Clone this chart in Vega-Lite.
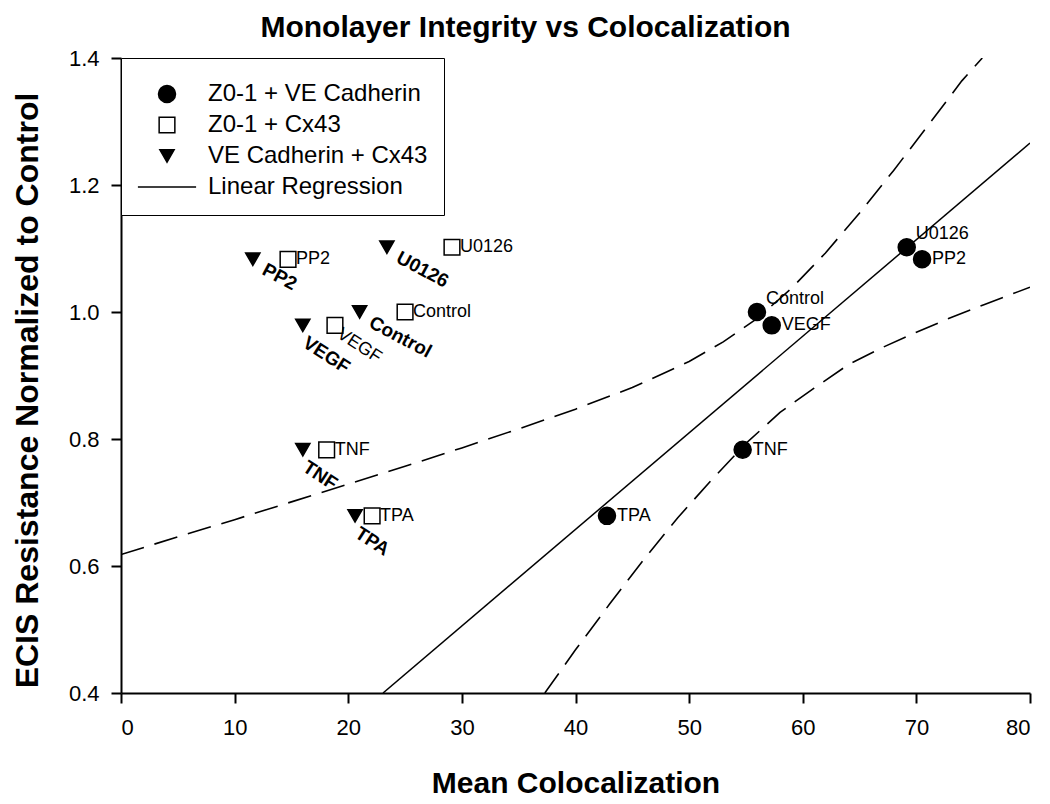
{
  "$schema": "https://vega.github.io/schema/vega-lite/v6.json",
  "width": 909,
  "height": 635,
  "autosize": {"type": "none"},
  "padding": {"left": 121, "top": 58, "right": 20, "bottom": 111},
  "background": "white",
  "title": {
    "text": "Monolayer Integrity vs Colocalization",
    "font": "Liberation Sans",
    "fontSize": 30,
    "fontWeight": "bold",
    "color": "black",
    "anchor": "middle",
    "dx": -50,
    "offset": 4
  },
  "config": {
    "view": {"stroke": null},
    "font": "Liberation Sans",
    "axis": {
      "grid": false,
      "domainColor": "black",
      "domainWidth": 2,
      "tickColor": "black",
      "tickWidth": 2,
      "tickSize": 10,
      "labelFont": "Liberation Sans",
      "labelFontSize": 22,
      "labelColor": "black",
      "titleFont": "Liberation Sans",
      "titleFontSize": 30,
      "titleFontWeight": "bold",
      "titleColor": "black"
    }
  },
  "datasets": {
    "points": [
      {"group": "Z0-1 + VE Cadherin", "treatment": "U0126", "x": 69.15, "y": 1.102},
      {"group": "Z0-1 + VE Cadherin", "treatment": "PP2", "x": 70.5, "y": 1.083},
      {"group": "Z0-1 + VE Cadherin", "treatment": "Control", "x": 55.97, "y": 1.0},
      {"group": "Z0-1 + VE Cadherin", "treatment": "VEGF", "x": 57.27, "y": 0.979},
      {"group": "Z0-1 + VE Cadherin", "treatment": "TNF", "x": 54.71, "y": 0.783},
      {"group": "Z0-1 + VE Cadherin", "treatment": "TPA", "x": 42.77, "y": 0.679},
      {"group": "Z0-1 + Cx43", "treatment": "U0126", "x": 29.13, "y": 1.102},
      {"group": "Z0-1 + Cx43", "treatment": "PP2", "x": 14.7, "y": 1.083},
      {"group": "Z0-1 + Cx43", "treatment": "Control", "x": 25.0, "y": 1.0},
      {"group": "Z0-1 + Cx43", "treatment": "VEGF", "x": 18.83, "y": 0.979},
      {"group": "Z0-1 + Cx43", "treatment": "TNF", "x": 18.1, "y": 0.783},
      {"group": "Z0-1 + Cx43", "treatment": "TPA", "x": 22.1, "y": 0.679},
      {"group": "VE Cadherin + Cx43", "treatment": "U0126", "x": 23.4, "y": 1.102},
      {"group": "VE Cadherin + Cx43", "treatment": "PP2", "x": 11.6, "y": 1.083},
      {"group": "VE Cadherin + Cx43", "treatment": "Control", "x": 21.0, "y": 1.0},
      {"group": "VE Cadherin + Cx43", "treatment": "VEGF", "x": 16.0, "y": 0.979},
      {"group": "VE Cadherin + Cx43", "treatment": "TNF", "x": 16.0, "y": 0.783},
      {"group": "VE Cadherin + Cx43", "treatment": "TPA", "x": 20.6, "y": 0.679}
    ],
    "regression": [
      {"x": 23.06, "y": 0.4},
      {"x": 80, "y": 1.266}
    ],
    "bands": [
      {"curve": "upper", "x": 0, "y": 0.618},
      {"curve": "upper", "x": 5, "y": 0.646},
      {"curve": "upper", "x": 10, "y": 0.673},
      {"curve": "upper", "x": 15, "y": 0.701},
      {"curve": "upper", "x": 20, "y": 0.729},
      {"curve": "upper", "x": 25, "y": 0.757},
      {"curve": "upper", "x": 30, "y": 0.786},
      {"curve": "upper", "x": 35, "y": 0.816},
      {"curve": "upper", "x": 40, "y": 0.847},
      {"curve": "upper", "x": 45, "y": 0.881},
      {"curve": "upper", "x": 50, "y": 0.922},
      {"curve": "upper", "x": 53, "y": 0.953},
      {"curve": "upper", "x": 56, "y": 0.99},
      {"curve": "upper", "x": 59, "y": 1.037},
      {"curve": "upper", "x": 62, "y": 1.093},
      {"curve": "upper", "x": 65, "y": 1.156},
      {"curve": "upper", "x": 68, "y": 1.223},
      {"curve": "upper", "x": 71, "y": 1.293},
      {"curve": "upper", "x": 74, "y": 1.364},
      {"curve": "upper", "x": 75.8, "y": 1.4},
      {"curve": "lower", "x": 37.3, "y": 0.4},
      {"curve": "lower", "x": 40, "y": 0.468},
      {"curve": "lower", "x": 43, "y": 0.54},
      {"curve": "lower", "x": 46, "y": 0.61},
      {"curve": "lower", "x": 49, "y": 0.676},
      {"curve": "lower", "x": 52, "y": 0.736},
      {"curve": "lower", "x": 55, "y": 0.793},
      {"curve": "lower", "x": 58, "y": 0.842},
      {"curve": "lower", "x": 61, "y": 0.88},
      {"curve": "lower", "x": 64, "y": 0.917},
      {"curve": "lower", "x": 67, "y": 0.944},
      {"curve": "lower", "x": 70, "y": 0.968},
      {"curve": "lower", "x": 73, "y": 0.991},
      {"curve": "lower", "x": 76, "y": 1.012},
      {"curve": "lower", "x": 80, "y": 1.039}
    ]
  },
  "encoding": {
    "x": {
      "field": "x",
      "type": "quantitative",
      "scale": {"domain": [0, 80], "nice": false, "zero": false},
      "axis": {
        "title": "Mean Colocalization",
        "values": [0, 10, 20, 30, 40, 50, 60, 70, 80],
        "labelPadding": 14,
        "titlePadding": 30
      }
    },
    "y": {
      "field": "y",
      "type": "quantitative",
      "scale": {"domain": [0.4, 1.4], "nice": false, "zero": false},
      "axis": {
        "title": "ECIS Resistance Normalized to Control",
        "values": [0.4, 0.6, 0.8, 1.0, 1.2, 1.4],
        "format": ".1f",
        "labelPadding": 12,
        "titlePadding": 24,
        "titleFontSize": 32,
        "titleY": 332
      }
    }
  },
  "layer": [
    {
      "data": {"name": "bands"},
      "mark": {"type": "line", "color": "black", "strokeWidth": 1.6, "strokeDash": [24, 11], "clip": true},
      "encoding": {"detail": {"field": "curve", "type": "nominal"}}
    },
    {
      "data": {"name": "regression"},
      "mark": {"type": "line", "color": "black", "strokeWidth": 1.5, "clip": true},
      "encoding": {}
    },
    {
      "data": {"name": "points"},
      "mark": {"type": "point", "filled": true, "stroke": "black", "strokeWidth": 1.5, "opacity": 1},
      "encoding": {
        "shape": {
          "field": "group",
          "type": "nominal",
          "scale": {
            "domain": ["Z0-1 + VE Cadherin", "Z0-1 + Cx43", "VE Cadherin + Cx43", "Linear Regression"],
            "range": ["circle", "square", "triangle-down", "M-4.6,0L4.6,0"]
          },
          "legend": {
            "title": " ",
            "titleFontSize": 2,
            "titlePadding": 6,
            "orient": "top-left",
            "offset": 0,
            "padding": 16,
            "rowPadding": 7,
            "symbolOffset": 18,
            "labelOffset": 29,
            "labelFont": "Liberation Sans",
            "labelFontSize": 24,
            "labelColor": "black",
            "labelLimit": 400,
            "strokeColor": "black",
            "fillColor": "white",
            "symbolStrokeColor": "black",
            "symbolStrokeWidth": 1.5,
            "symbolOpacity": 1,
            "encode": {"legend": {"update": {"strokeWidth": {"value": 2}}}}
          }
        },
        "fill": {
          "field": "group",
          "type": "nominal",
          "scale": {
            "domain": ["Z0-1 + VE Cadherin", "Z0-1 + Cx43", "VE Cadherin + Cx43", "Linear Regression"],
            "range": ["black", "white", "black", "black"]
          },
          "legend": {"title": " "}
        },
        "size": {
          "field": "group",
          "type": "nominal",
          "scale": {
            "domain": ["Z0-1 + VE Cadherin", "Z0-1 + Cx43", "VE Cadherin + Cx43", "Linear Regression"],
            "range": [290, 160, 240, 300]
          },
          "legend": {"title": " "}
        }
      }
    },
    {
      "data": {"name": "points"},
      "transform": [
        {"filter": "datum.group === 'Z0-1 + VE Cadherin' && (datum.treatment === 'U0126' || datum.treatment === 'Control')"}
      ],
      "mark": {"type": "text", "align": "left", "baseline": "middle", "dx": 9, "dy": -13, "fontSize": 18, "color": "black"},
      "encoding": {"text": {"field": "treatment"}}
    },
    {
      "data": {"name": "points"},
      "transform": [
        {"filter": "datum.group === 'Z0-1 + VE Cadherin' && datum.treatment !== 'U0126' && datum.treatment !== 'Control'"}
      ],
      "mark": {"type": "text", "align": "left", "baseline": "middle", "dx": 10, "dy": 0, "fontSize": 18, "color": "black"},
      "encoding": {"text": {"field": "treatment"}}
    },
    {
      "data": {"name": "points"},
      "transform": [
        {"filter": "datum.group === 'Z0-1 + Cx43' && datum.treatment !== 'VEGF'"}
      ],
      "mark": {"type": "text", "align": "left", "baseline": "middle", "dx": 8, "dy": 0, "fontSize": 18, "color": "black"},
      "encoding": {"text": {"field": "treatment"}}
    },
    {
      "data": {"name": "points"},
      "transform": [
        {"filter": "datum.group === 'Z0-1 + Cx43' && datum.treatment === 'VEGF'"}
      ],
      "mark": {"type": "text", "align": "left", "baseline": "top", "angle": 33, "dx": 7, "dy": -5, "fontSize": 18, "color": "black"},
      "encoding": {"text": {"field": "treatment"}}
    },
    {
      "data": {"name": "points"},
      "transform": [
        {"filter": "datum.group === 'VE Cadherin + Cx43' && datum.treatment !== 'PP2' && datum.treatment !== 'U0126' && datum.treatment !== 'Control'"}
      ],
      "mark": {"type": "text", "align": "left", "baseline": "top", "angle": 33, "dx": 10, "dy": 3, "fontSize": 19, "fontWeight": "bold", "color": "black"},
      "encoding": {"text": {"field": "treatment"}}
    },
    {
      "data": {"name": "points"},
      "transform": [
        {"filter": "datum.group === 'VE Cadherin + Cx43' && (datum.treatment === 'PP2' || datum.treatment === 'U0126' || datum.treatment === 'Control')"}
      ],
      "mark": {"type": "text", "align": "left", "baseline": "top", "angle": 28, "dx": 14, "dy": -6, "fontSize": 19, "fontWeight": "bold", "color": "black"},
      "encoding": {"text": {"field": "treatment"}}
    }
  ]
}
